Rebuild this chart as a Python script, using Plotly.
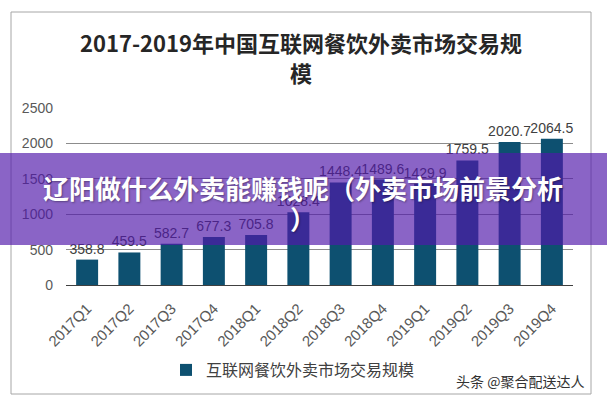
import plotly.graph_objects as go

W, H = 607, 400

categories = ["2017Q1", "2017Q2", "2017Q3", "2017Q4", "2018Q1", "2018Q2",
              "2018Q3", "2018Q4", "2019Q1", "2019Q2", "2019Q3", "2019Q4"]
values = [358.8, 459.5, 582.7, 677.3, 705.8, 1028.4,
          1448.4, 1489.6, 1429.9, 1759.5, 2020.7, 2064.5]
value_labels = [f"{v:.1f}" for v in values]
y_ticks = [0, 500, 1000, 1500, 2000, 2500]
series_name = "互联网餐饮外卖市场交易规模"
title_line1 = "2017-2019年中国互联网餐饮外卖市场交易规"
title_line2 = "模"
banner_line1 = "辽阳做什么外卖能赚钱呢（外卖市场前景分析"
banner_line2 = "）"
watermark = "头条 @聚合配送达人"


def px(x):
    return x / W


def py(y):
    return 1 - y / H


FONT = "Liberation Sans, Arial, Noto Sans CJK SC, sans-serif"
CJK = "Noto Sans CJK SC, sans-serif"

fig = go.Figure()
fig.add_trace(go.Bar(
    x=categories, y=values, name=series_name,
    marker=dict(color="#0d5070", line=dict(width=0)),
    text=value_labels, textposition="outside", cliponaxis=False,
    constraintext="none",
    textfont=dict(family=FONT, size=14, color="#404040"),
    showlegend=True,
))

fig.update_layout(
    width=W, height=H,
    margin=dict(l=0, r=0, t=0, b=0),
    paper_bgcolor="white", plot_bgcolor="white",
    bargap=0.48,
    showlegend=True,
    legend=dict(orientation="h", x=px(293), xanchor="center", y=py(370), yanchor="middle",
                font=dict(family=CJK, size=16, color="#404040"),
                bgcolor="rgba(0,0,0,0)"),
    xaxis=dict(domain=[px(66), px(573)], showgrid=False, showline=True,
               linecolor="#404040", linewidth=1, tickangle=-45,
               tickfont=dict(family=FONT, size=15, color="#595959"),
               ticks="", automargin=False, ticklabelstandoff=8),
    yaxis=dict(domain=[py(285), py(108)], range=[0, 2500], tickvals=y_ticks,
               showgrid=True, gridcolor="#8c8c8c", gridwidth=1, zeroline=False,
               showline=False, ticks="",
               tickfont=dict(family=FONT, size=14, color="#595959"),
               automargin=False, ticklabelstandoff=12),
    font=dict(family=FONT),
)

# outer frame
fig.add_shape(type="rect", xref="paper", yref="paper",
              x0=px(11), x1=px(591), y0=py(394), y1=py(12),
              line=dict(color="#a6a6a6", width=1), fillcolor="rgba(0,0,0,0)", layer="below")

# title
fig.add_annotation(text=f"<b>{title_line1}</b>", xref="paper", yref="paper",
                   x=px(301), y=py(42), xanchor="center", yanchor="middle", showarrow=False,
                   font=dict(family=CJK, size=22, color="#262626"))
fig.add_annotation(text=f"<b>{title_line2}</b>", xref="paper", yref="paper",
                   x=px(301), y=py(72), xanchor="center", yanchor="middle", showarrow=False,
                   font=dict(family=CJK, size=22, color="#262626"))

# watermark
fig.add_annotation(text=watermark, xref="paper", yref="paper",
                   x=px(454), y=py(381), xanchor="left", yanchor="middle", showarrow=False,
                   font=dict(family=CJK, size=14, color="#333333"))

# purple banner overlay
fig.add_shape(type="rect", xref="paper", yref="paper",
              x0=0, x1=1, y0=py(245), y1=py(153),
              fillcolor="rgba(80,24,170,0.67)", line=dict(width=0), layer="above")
fig.add_annotation(text=f"<b>{banner_line1}</b>", xref="paper", yref="paper",
                   x=px(303), y=py(187), xanchor="center", yanchor="middle", showarrow=False,
                   font=dict(family=CJK, size=26, color="white",
                             shadow="1px 1px 2px rgba(0,0,0,0.35)"))
fig.add_annotation(text=f"<b>{banner_line2}</b>", xref="paper", yref="paper",
                   x=px(303), y=py(217), xanchor="center", yanchor="middle", showarrow=False,
                   font=dict(family=CJK, size=26, color="white",
                             shadow="1px 1px 2px rgba(0,0,0,0.35)"))

fig.write_html("out.html", config={"displayModeBar": False},
               post_script="document.body.style.margin='0';")
